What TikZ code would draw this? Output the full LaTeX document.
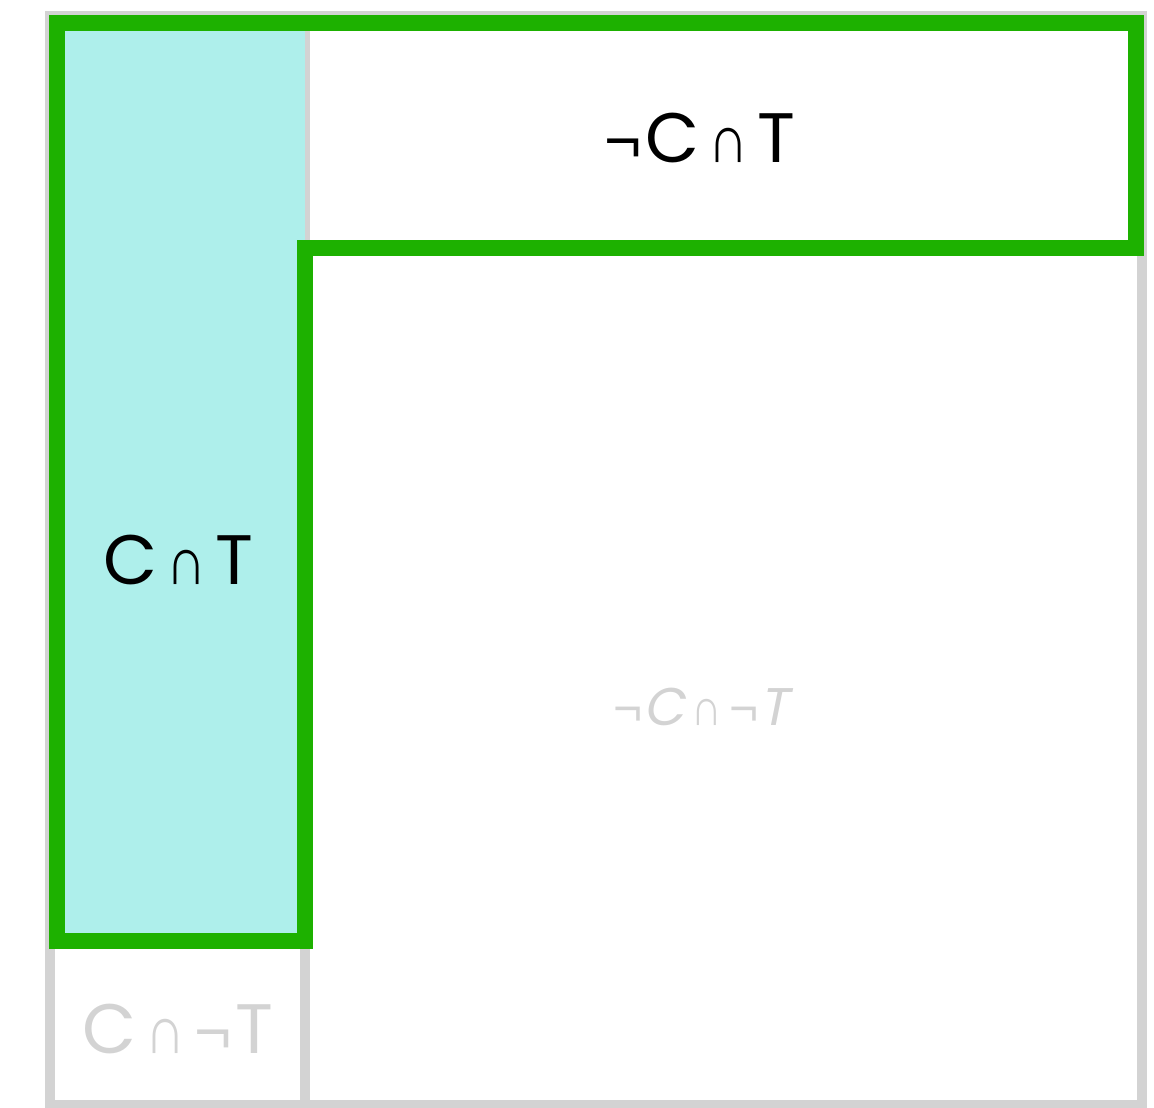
\documentclass[tikz,border=0pt]{standalone}
\usepackage{graphicx}
\usepackage{fontspec}
\setmainfont{Poppins}
\newfontfamily\symfont{Liberation Sans}
\newfontfamily\slfont[FakeSlant=0.2]{Poppins}
\definecolor{gridgray}{RGB}{211,211,211}
\definecolor{regiongreen}{RGB}{29,177,0}
\definecolor{regioncyan}{RGB}{174,239,235}
\newcommand{\capop}{\hspace{9pt}\scalebox{0.82}[1]{\symfont\fontsize{68}{68}\selectfont ∩}\hspace{9pt}}
\newcommand{\negop}{{\symfont\fontsize{64}{64}\selectfont ¬}\hspace{3pt}}
\newcommand{\capsm}{\hspace{7pt}\scalebox{0.82}[1]{\symfont\fontsize{52}{52}\selectfont ∩}\hspace{7pt}}
\newcommand{\negsm}{{\symfont\fontsize{50}{50}\selectfont ¬}\hspace{1pt}}
\tikzset{
  gridline/.style={draw=gridgray, line width=10pt},
  regionline/.style={draw=regiongreen, line width=16pt, line join=miter},
  biglabel/.style={anchor=base, inner sep=0pt, font=\fontsize{70}{70}\selectfont},
  smalllabel/.style={anchor=base, inner sep=0pt, font=\fontsize{53}{53}\selectfont},
}
\begin{document}
\begin{tikzpicture}[x=1pt,y=-1pt]
\useasboundingbox (0,0) rectangle (1154,1108);
% grid of four cells
\draw[gridline] (50,16) rectangle (1142,1105);
\draw[gridline] (305,16) -- (305,1105);
\draw[gridline] (50,941) -- (305,941);
\draw[gridline] (305,248) -- (1142,248);
% highlighted cell
\fill[regioncyan] (50,16) rectangle (305,941);
% green outline of T
\draw[regionline] (57,23) -- (1136,23) -- (1136,248) -- (305,248) -- (305,941) -- (57,941) -- cycle;
% labels
\node[biglabel, text=black] (nct) at (700,162) {\negop C\capop T};
\node[biglabel, text=black] (ct) at (178,584) {C\capop T};
\node[biglabel, text=gridgray] (cnt) at (178,1053) {C\capop\negop T};
\node[smalllabel, text=gridgray] (ncnt) at (701,725) {\negsm{\slfont C}\capsm\negsm{\slfont T}};
\end{tikzpicture}
\end{document}
